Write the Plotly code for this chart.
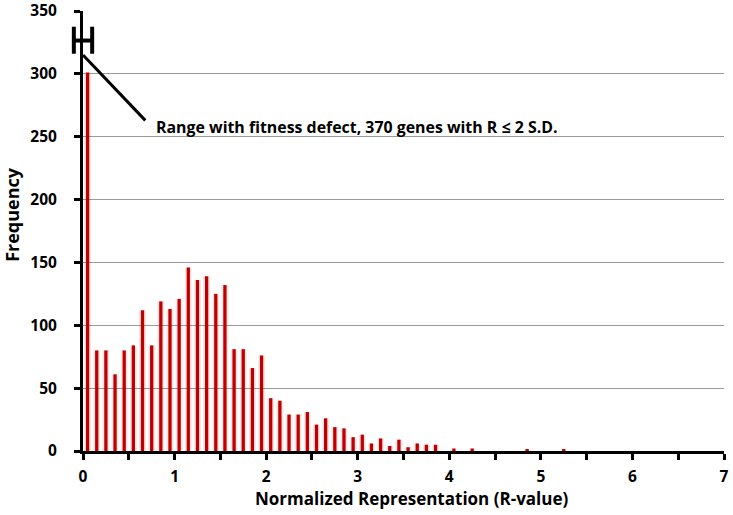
import plotly.graph_objects as go

# Bin centers (R-value) and frequencies
bin_centers = [round(0.05 + 0.1 * i, 2) for i in range(53)]
frequencies = [301, 80, 80, 61, 80, 84, 112, 84, 119, 113,
               121, 146, 136, 139, 125, 132, 81, 81, 66, 76,
               42, 40, 29, 29, 31, 21, 26, 19, 18, 11,
               13, 6, 10, 4, 9, 3, 6, 5, 5, 0,
               2, 0, 2, 0, 0, 0, 0, 0, 1, 0,
               0, 0, 1]

x_tick_vals = [0, 1, 2, 3, 4, 5, 6, 7]
y_tick_vals = [0, 50, 100, 150, 200, 250, 300, 350]
annotation_text = "Range with fitness defect, 370 genes with R \u2264 2 S.D."
x_title = "Normalized Representation (R-value)"
y_title = "Frequency"

X_MAX, Y_MAX = 7.0, 350.0
FONT = "'Open Sans', sans-serif"
RED = "#C00000"


def px(x):
    return x / X_MAX


def py(y):
    return y / Y_MAX


fig = go.Figure()
# soft glow under bars
fig.add_trace(go.Bar(x=bin_centers, y=frequencies, width=0.075,
                     marker=dict(color="rgba(200,0,0,0.10)", line=dict(width=0)),
                     hoverinfo="skip", showlegend=False))
fig.add_trace(go.Bar(x=bin_centers, y=frequencies, width=0.036,
                     marker=dict(color=RED, line=dict(width=0)),
                     showlegend=False))

# range marker "H" and leader line (paper coords so they are not clipped)
line_style = dict(color="black", width=4)
fig.add_shape(type="line", xref="paper", yref="paper", x0=px(-0.1), x1=px(-0.1),
              y0=py(316), y1=py(337.5), line=line_style)
fig.add_shape(type="line", xref="paper", yref="paper", x0=px(0.1), x1=px(0.1),
              y0=py(316), y1=py(337.5), line=line_style)
fig.add_shape(type="line", xref="paper", yref="paper", x0=px(-0.1), x1=px(0.1),
              y0=py(326.5), y1=py(326.5), line=line_style)
fig.add_shape(type="line", xref="paper", yref="paper", x0=px(0.0), x1=px(0.68),
              y0=py(315), y1=py(263), line=dict(color="black", width=3))
fig.add_annotation(x=0.78, y=258, text="<b>" + annotation_text + "</b>", showarrow=False,
                   xanchor="left", yanchor="middle",
                   font=dict(family=FONT, size=15.9, color="black"))

# axis titles as annotations for exact placement
fig.add_annotation(xref="paper", yref="paper", x=0.513, y=-0.109, text="<b>" + x_title + "</b>",
                   showarrow=False, xanchor="center", yanchor="middle",
                   font=dict(family=FONT, size=17, color="black"))
fig.add_annotation(xref="paper", yref="paper", x=-0.1108, y=0.539, text="<b>" + y_title + "</b>",
                   showarrow=False, xanchor="center", yanchor="middle", textangle=-90,
                   font=dict(family=FONT, size=18, color="black"))

fig.update_layout(
    width=733, height=515,
    margin=dict(l=83, r=9, t=11, b=64),
    paper_bgcolor="white", plot_bgcolor="white",
    barmode="overlay",
    font=dict(family=FONT, color="black"),
    xaxis=dict(
        range=[0, X_MAX], tickvals=x_tick_vals, ticktext=["<b>%d</b>" % v for v in x_tick_vals],
        ticks="outside", ticklen=6, tickwidth=2.5, tickcolor="black",
        minor=dict(dtick=0.5, ticks="outside", ticklen=6, tickwidth=2.5, tickcolor="black"),
        ticklabelstandoff=3, ticklabeloverflow="allow",
        showline=True, linecolor="black", linewidth=3, showgrid=False, zeroline=False,
        tickfont=dict(family=FONT, size=15.5, color="black"),
        automargin=False,
    ),
    yaxis=dict(
        range=[0, Y_MAX], tickvals=y_tick_vals, ticktext=["<b>%d</b>" % v for v in y_tick_vals],
        ticks="outside", ticklen=6, tickwidth=2.5, tickcolor="black",
        ticklabelstandoff=14, ticklabeloverflow="allow",
        showline=True, linecolor="black", linewidth=3,
        showgrid=True, gridcolor="#9a9a9a", gridwidth=1, zeroline=False,
        tickfont=dict(family=FONT, size=15.5, color="black"),
        automargin=False,
    ),
)

fig.write_html("out.html", config={"displayModeBar": False},
               post_script="document.body.style.margin='0px';document.body.style.overflow='hidden';")
